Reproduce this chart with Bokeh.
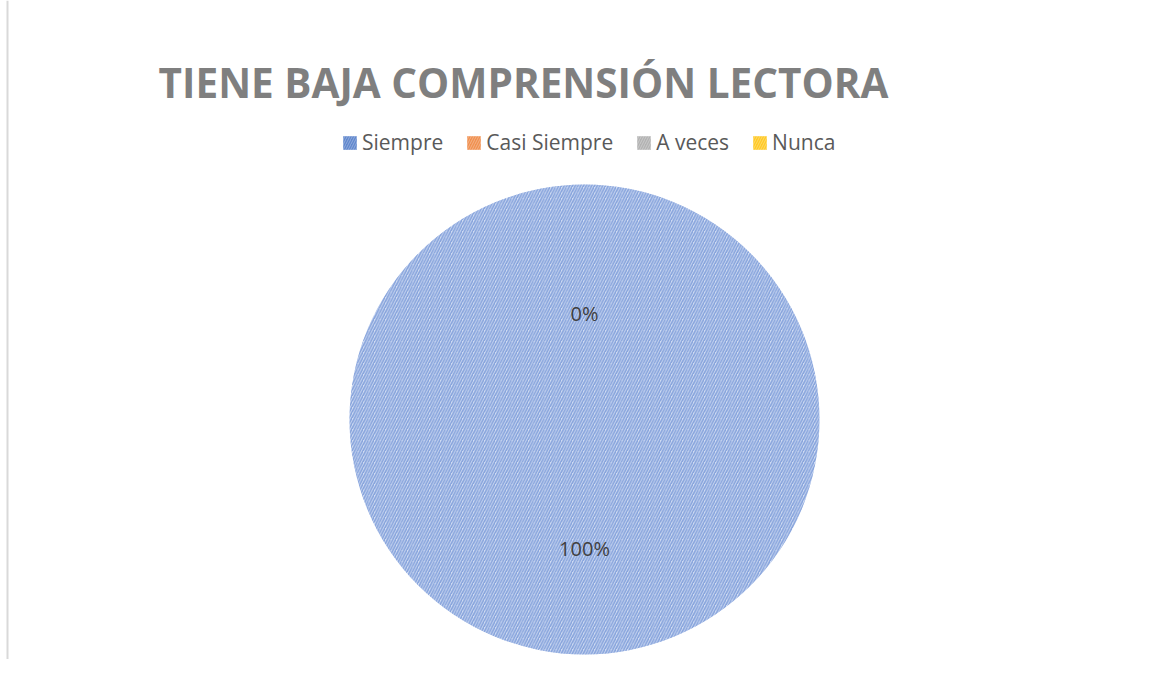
import math
from bokeh.plotting import figure
from bokeh.models import ColumnDataSource, Range1d, Legend, LegendItem, Label, Span
from bokeh.core.properties import value
from bokeh.embed import file_html
from bokeh.resources import INLINE

# ---- data ----
title_text = "TIENE BAJA COMPRENSIÓN LECTORA"
categories = ["Siempre", "Casi Siempre", "A veces", "Nunca"]
values = [100, 0, 0, 0]
hatch_colors = ["#86a3dc", "#ed7d31", "#a5a5a5", "#ffc000"]
fill_colors = ["#cfdbf2", "#f8cbad", "#dedede", "#ffe699"]
legend_colors = ["#4472c4", "#ed7d31", "#a5a5a5", "#ffc000"]

# ---- layout ----
W, H = 1137, 659
cx, cy, R = 584, 240, 235
HATCH = dict(hatch_pattern="/", hatch_scale=5.5, hatch_weight=1.6)

total = sum(values)
starts, ends, mids, pcts = [], [], [], []
acc = 0.0
for v in values:
    frac = v / total
    a0 = math.pi / 2 - acc * 2 * math.pi
    a1 = math.pi / 2 - (acc + frac) * 2 * math.pi
    starts.append(a0)
    ends.append(a1)
    mids.append((a0 + a1) / 2)
    pcts.append(f"{round(frac * 100)}%")
    acc += frac

p = figure(width=W, height=H, output_backend="svg", toolbar_location=None,
           x_range=Range1d(0, W), y_range=Range1d(0, H), min_border=0)
p.axis.visible = False
p.grid.visible = False
p.outline_line_color = None
p.background_fill_color = "white"

# full slices are drawn as circles, partial ones as wedges, empty ones skipped
full = [i for i, v in enumerate(values) if v >= total]
part = [i for i, v in enumerate(values) if 0 < v < total]
if full:
    fsrc = ColumnDataSource(dict(
        x=[cx] * len(full), y=[cy] * len(full),
        fill=[fill_colors[i] for i in full], hatch=[hatch_colors[i] for i in full]))
    p.circle(x="x", y="y", radius=R, source=fsrc, fill_color="fill",
             hatch_color="hatch", line_color=None, **HATCH)
if part:
    psrc = ColumnDataSource(dict(
        x=[cx] * len(part), y=[cy] * len(part),
        start=[starts[i] for i in part], end=[ends[i] for i in part],
        fill=[fill_colors[i] for i in part], hatch=[hatch_colors[i] for i in part]))
    p.wedge(x="x", y="y", radius=R, start_angle="start", end_angle="end",
            direction="clock", source=psrc, fill_color="fill",
            hatch_color="hatch", line_color=None, **HATCH)

# legend proxies (one per category, zero-size so they draw nothing on the plot)
proxies = []
for c, lc in zip(categories, legend_colors):
    r = p.wedge(x=[cx], y=[cy], radius=0, start_angle=0, end_angle=0.1,
                fill_color=lc, fill_alpha=0.85, hatch_color="white", hatch_alpha=0.3,
                line_color=None, hatch_pattern="/", hatch_scale=5, hatch_weight=1)
    proxies.append(r)

# labels (deduplicate identical positions)
seen = set()
lx, ly, lt = [], [], []
for m, t in zip(mids, pcts):
    key = (round(m, 6), t)
    if key in seen:
        continue
    seen.add(key)
    lx.append(cx + 0.5 * R * math.cos(m))
    ly.append(cy + 0.5 * R * math.sin(m))
    lt.append(t)
p.text(x=lx, y=ly, text=lt, text_align="center", text_baseline="middle",
       y_offset=11, text_font=value("Open Sans"), text_font_size="20px",
       text_color="#404040")

legend = Legend(
    items=[LegendItem(label=c, renderers=[r]) for c, r in zip(categories, proxies)],
    orientation="horizontal", location=(341, 503),
    glyph_width=17, glyph_height=17, label_standoff=4, spacing=22,
    label_height=17, padding=0, margin=0,
    border_line_color=None, background_fill_alpha=0,
    label_text_font="Open Sans", label_text_font_size="21px",
    label_text_color="#595959", label_text_baseline="top",
    inactive_fill_alpha=0,
)
p.add_layout(legend)

p.add_layout(Label(x=523, y=H - 82, text=title_text, text_align="center",
                   text_baseline="middle", text_font="Open Sans",
                   text_font_style="bold", text_font_size="40.5px",
                   text_color="#7f7f7f"))

p.add_layout(Span(location=7, dimension="height", line_color="#d9d9d9", line_width=2))

open("out.html", "w").write(file_html(p, INLINE))
